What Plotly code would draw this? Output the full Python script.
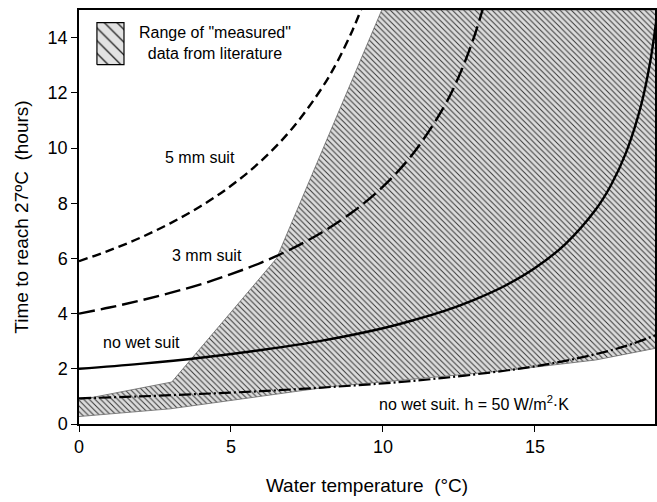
import plotly.graph_objects as go

# ---- data ----
temp_5mm = [0, 1, 2, 3, 4, 5, 6, 7, 8, 8.5, 9, 9.3]
time_5mm = [5.90, 6.29, 6.74, 7.27, 7.89, 8.63, 9.54, 10.69, 12.19, 13.13, 14.27, 15.07]

temp_3mm = [0, 1, 2, 3, 4, 5, 6, 7, 8, 9, 10, 11, 12, 12.5, 13, 13.3]
time_3mm = [4.00, 4.22, 4.47, 4.75, 5.06, 5.43, 5.85, 6.35, 6.95, 7.68, 8.60, 9.81, 11.48, 12.60, 14.03, 15.1]

temp_nosuit = [0, 2, 4, 6, 8, 10, 11, 12, 13, 14, 15, 16, 17, 17.5, 18, 18.5, 18.8, 19.0]
time_nosuit = [2.00, 2.18, 2.40, 2.68, 3.02, 3.47, 3.76, 4.09, 4.50, 5.00, 5.65, 6.52, 7.77, 8.65, 9.84, 11.58, 13.17, 14.7]

temp_h50 = [0, 2, 4, 6, 8, 10, 12, 14, 15, 16, 17, 18, 19]
time_h50 = [0.93, 1.00, 1.09, 1.19, 1.32, 1.47, 1.67, 1.93, 2.09, 2.29, 2.53, 2.83, 3.23]

# measured range polygon (upper boundary then lower boundary back)
range_temp = [0, 3.05, 6.5, 9.96, 19, 19, 17, 14, 8.26, 3, 0]
range_time = [0.87, 1.52, 6.0, 15, 15, 2.75, 2.32, 1.93, 1.35, 0.55, 0.27]

# legend swatch (data coords)
swatch_temp = [0.59, 1.48, 1.48, 0.59, 0.59]
swatch_time = [13.02, 13.02, 14.54, 14.54, 13.02]

x_ticks = [0, 5, 10, 15]
y_ticks = [0, 2, 4, 6, 8, 10, 12, 14]

FONT = "Liberation Sans, Arial, Helvetica, sans-serif"

fig = go.Figure()

fig.add_trace(go.Scatter(
    x=range_temp, y=range_time, mode="lines", fill="toself",
    line=dict(color="#666666", width=0.8),
    fillcolor="#dcdcdc",
    fillpattern=dict(shape="\\", size=4, solidity=0.24, fgcolor="#333333",
                     bgcolor="#dcdcdc", fillmode="replace"),
    hoverinfo="skip", showlegend=False))

fig.add_trace(go.Scatter(
    x=swatch_temp, y=swatch_time, mode="lines", fill="toself",
    line=dict(color="black", width=1.2),
    fillpattern=dict(shape="\\", size=9, solidity=0.15, fgcolor="#222222",
                     bgcolor="#e2e2e2", fillmode="replace"),
    hoverinfo="skip", showlegend=False))

fig.add_trace(go.Scatter(x=temp_5mm, y=time_5mm, mode="lines", line_shape="spline",
                         line=dict(color="black", width=2.4, dash="9px,5px"), showlegend=False))
fig.add_trace(go.Scatter(x=temp_3mm, y=time_3mm, mode="lines", line_shape="spline",
                         line=dict(color="black", width=2.4, dash="16px,6px"), showlegend=False))
fig.add_trace(go.Scatter(x=temp_nosuit, y=time_nosuit, mode="lines", line_shape="spline",
                         line=dict(color="black", width=2.4), showlegend=False))
fig.add_trace(go.Scatter(x=temp_h50, y=time_h50, mode="lines", line_shape="spline",
                         line=dict(color="black", width=2.2, dash="12px,3px,2px,3px"), showlegend=False))

ann_font = dict(family=FONT, size=16, color="black")
annotations = [
    dict(x=3.98, y=9.65, text="5 mm suit"),
    dict(x=4.21, y=6.09, text="3 mm suit"),
    dict(x=2.04, y=2.94, text="no wet suit"),
    dict(x=13.0, y=0.76, text="no wet suit. h = 50 W/m<sup>2</sup>·K"),
]
anns = [dict(a, xref="x", yref="y", showarrow=False, font=ann_font) for a in annotations]
anns.append(dict(x=4.47, y=13.82, xref="x", yref="y", showarrow=False,
                 text="Range of \"measured\"<br>data from literature",
                 font=dict(family=FONT, size=16, color="black")))

fig.update_layout(
    width=657, height=502,
    margin=dict(l=79, r=2, t=10, b=78),
    paper_bgcolor="white", plot_bgcolor="white",
    font=dict(family=FONT, color="black"),
    annotations=anns,
    xaxis=dict(range=[0, 18.95], tickvals=x_ticks, ticks="outside", ticklen=6,
               tickwidth=1.3, tickcolor="black", showline=True, linecolor="black",
               linewidth=1.5, mirror=True, showgrid=False, zeroline=False,
               automargin=False,
               tickfont=dict(size=18, family=FONT),
               title=dict(text="Water temperature  (°C)", font=dict(size=19, family=FONT),
                          standoff=22)),
    yaxis=dict(range=[0, 15], tickvals=y_ticks, ticks="outside", ticklen=6,
               tickwidth=1.3, tickcolor="black", showline=True, linecolor="black",
               linewidth=1.5, mirror=True, showgrid=False, zeroline=False,
               automargin=False,
               tickfont=dict(size=18, family=FONT),
               title=dict(text="Time to reach 27ºC  (hours)", font=dict(size=19, family=FONT),
                          standoff=14)),
)

fig.write_html("out.html", config={"displayModeBar": False},
               post_script="document.body.style.margin='0';document.body.style.overflow='hidden';")
